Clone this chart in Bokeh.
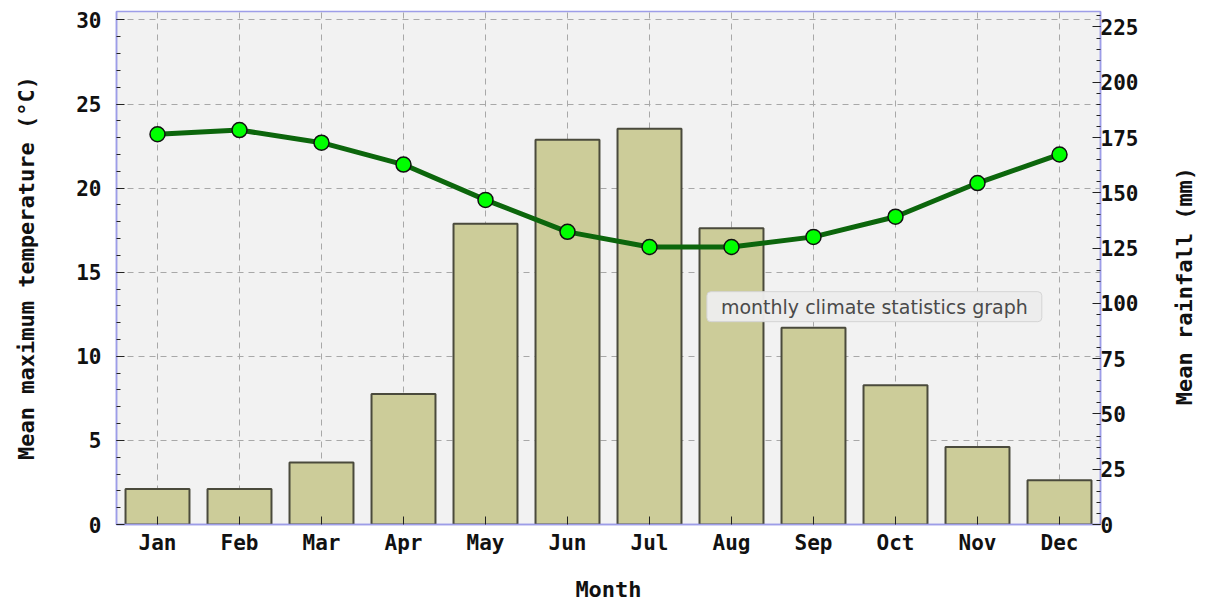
import math
from bokeh.plotting import figure
from bokeh.models import Range1d, LinearAxis, FixedTicker, SingleIntervalTicker, ColumnDataSource, Label
from bokeh.embed import file_html
from bokeh.resources import INLINE

months = ["Jan", "Feb", "Mar", "Apr", "May", "Jun", "Jul", "Aug", "Sep", "Oct", "Nov", "Dec"]
rainfall_mm = [16, 16, 28, 59, 136, 174, 179, 134, 89, 63, 35, 20]
max_temp_c = [23.2, 23.45, 22.7, 21.4, 19.3, 17.4, 16.5, 16.5, 17.1, 18.3, 20.3, 22.0]

xpos = [i + 0.5 for i in range(len(months))]
src = ColumnDataSource(dict(x=xpos, month=months, rain=rainfall_mm, temp=max_temp_c))

FONT = "DejaVu Sans Mono"
AXIS_COL = "#9d9de8"
FS = "21px"
LFS = "22px"

p = figure(width=1212, height=604, x_range=Range1d(0, 12), y_range=Range1d(0, 30.5),
           output_backend="svg", toolbar_location=None,
           min_border_left=116, min_border_right=109, min_border_top=11, min_border_bottom=80,
           background_fill_color="#f2f2f2", border_fill_color="white")
p.extra_y_ranges = {"rain": Range1d(0, 232)}

p.outline_line_color = AXIS_COL
p.outline_line_width = 1.5

# bars (rainfall, right axis)
p.vbar(x="x", top="rain", width=0.78, bottom=0, source=src, y_range_name="rain",
       fill_color="#cccc99", line_color="#4a4a3c", line_width=2)

# temperature line
p.line(x="x", y="temp", source=src, line_width=5, line_color="#0c660c")
p.scatter(x="x", y="temp", source=src, size=15, fill_color="#00ff00",
          line_color="#111111", line_width=1.5)

def style_axis(ax):
    ax.axis_line_color = AXIS_COL
    ax.axis_line_width = 1.5
    ax.major_tick_line_color = "#222222"
    ax.minor_tick_line_color = "#222222"
    ax.major_tick_out = 0
    ax.minor_tick_out = 0
    ax.major_label_text_font = FONT
    ax.major_label_text_font_style = "bold"
    ax.major_label_text_font_size = FS
    ax.major_label_text_color = "#111111"
    ax.axis_label_text_font = FONT
    ax.axis_label_text_font_style = "bold"
    ax.axis_label_text_font_size = LFS
    ax.axis_label_text_color = "#111111"

xa = p.xaxis[0]
xa.ticker = FixedTicker(ticks=xpos, minor_ticks=[])
xa.major_label_overrides = {x: m for x, m in zip(xpos, months)}
xa.axis_label = "Month"
style_axis(xa)
xa.major_tick_in = 8
xa.major_label_standoff = 6
xa.axis_label_standoff = 19

ya = p.yaxis[0]
ya.ticker = SingleIntervalTicker(interval=5, num_minor_ticks=5)
ya.axis_label = "Mean maximum temperature (°C)"
style_axis(ya)
ya.major_tick_in = 8
ya.minor_tick_in = 4
ya.major_label_standoff = 15
ya.axis_label_standoff = 34

right_title = "Mean rainfall (mm)"
ra = LinearAxis(y_range_name="rain", ticker=SingleIntervalTicker(interval=25, num_minor_ticks=5))
style_axis(ra)
ra.major_tick_in = 8
ra.minor_tick_in = 4
ra.major_label_standoff = 0
ra.axis_label_standoff = 43
props = ra.properties()
if "axis_label_orientation" in props:
    ra.axis_label_orientation = math.pi / 2
    if "axis_label_align" in props:
        try:
            ra.axis_label_align = "start"
            right_title = "\u00a0" * 9 + right_title
        except Exception:
            pass
ra.axis_label = right_title
p.add_layout(ra, "right")

p.xgrid.ticker = FixedTicker(ticks=xpos)
for g in (p.xgrid[0], p.ygrid[0]):
    g.grid_line_color = "#a8a8a8"
    g.grid_line_dash = "6 5"
    g.grid_line_width = 1

tip = Label(x=7.2, y=12.95, text="monthly climate statistics graph",
            text_font="DejaVu Sans", text_font_size="19px", text_color="#4a4a4a",
            text_baseline="middle", padding=(14, 4),
            background_fill_color="#ececec", background_fill_alpha=0.97,
            border_line_color="#d4d4d4", border_line_width=1, border_radius=4)
p.add_layout(tip)

open("out.html", "w").write(file_html(p, INLINE))
